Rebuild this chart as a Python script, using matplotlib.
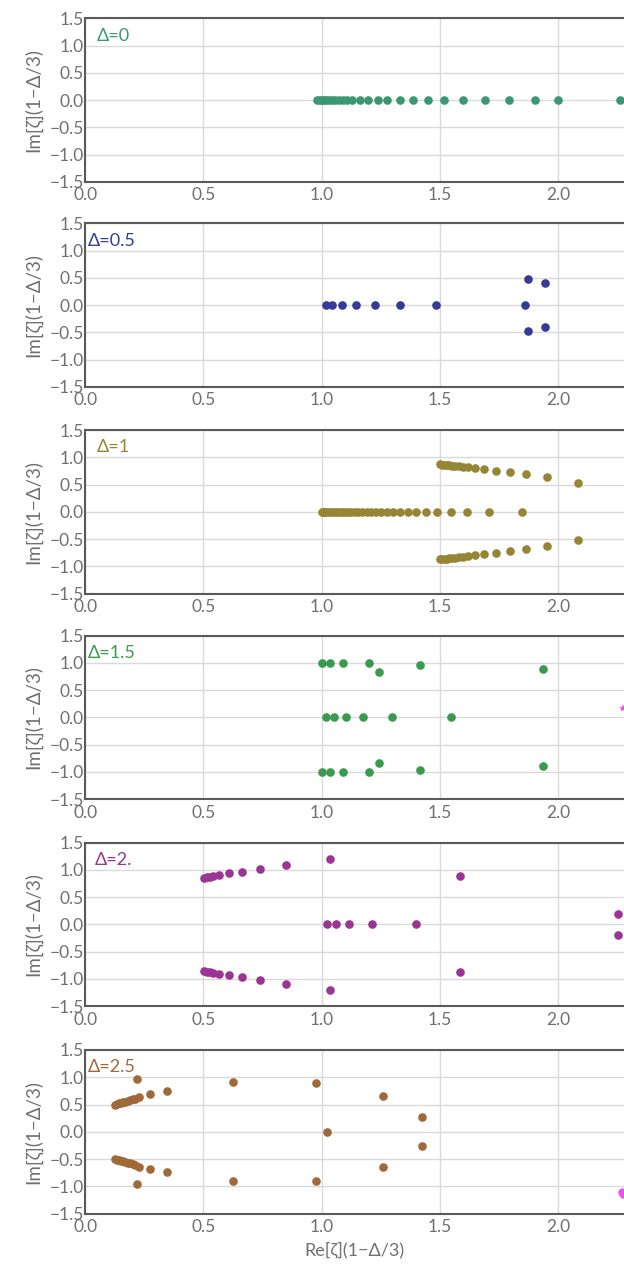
import matplotlib
matplotlib.use("Agg")
import matplotlib.pyplot as plt

plt.rcParams['font.family'] = ['Lato', 'DejaVu Sans']

labels = ["Δ=0", "Δ=0.5", "Δ=1", "Δ=1.5", "Δ=2.", "Δ=2.5"]
colors = ["#3b9774", "#363a96", "#978536", "#3a9a4e", "#9a3593", "#a0693a"]
label_x = [0.05, 0.01, 0.05, 0.01, 0.04, 0.01]

# Delta = 0 : real roots
d0_re = [0.982, 0.992, 1.0, 1.01, 1.02, 1.032, 1.045, 1.058, 1.072, 1.088, 1.106, 1.128,
         1.162, 1.197, 1.236, 1.278, 1.330, 1.387, 1.450, 1.518, 1.599, 1.692, 1.790,
         1.903, 1.999, 2.262]
d0_im = [0.0] * len(d0_re)

# Delta = 0.5
d05_re = [1.017, 1.045, 1.087, 1.147, 1.224, 1.333, 1.485, 1.861, 1.873, 1.943, 1.873, 1.943]
d05_im = [0.0, 0.0, 0.0, 0.0, 0.0, 0.0, 0.0, 0.0, 0.48, 0.40, -0.48, -0.40]

# Delta = 1
d1_real_re = [1.0, 1.005, 1.01, 1.015, 1.02, 1.03, 1.04, 1.05, 1.06, 1.07, 1.08, 1.09,
              1.10, 1.11, 1.125, 1.14, 1.155, 1.17, 1.19, 1.21, 1.23, 1.25, 1.274, 1.302,
              1.331, 1.366, 1.40, 1.443, 1.489, 1.546, 1.616, 1.706, 1.847]
d1_branch_re = [1.500, 1.510, 1.520, 1.530, 1.540, 1.552, 1.565, 1.580, 1.598, 1.620,
                1.648, 1.686, 1.736, 1.798, 1.865, 1.953, 2.084]
d1_branch_im = [0.870, 0.866, 0.862, 0.858, 0.853, 0.848, 0.842, 0.835, 0.826, 0.815,
                0.800, 0.780, 0.755, 0.725, 0.690, 0.630, 0.525]

# Delta = 1.5
d15_real_re = [1.02, 1.054, 1.104, 1.176, 1.299, 1.547]
d15_branch_re = [1.0, 1.033, 1.092, 1.201, 1.241, 1.416, 1.936]
d15_branch_im = [1.0, 1.0, 1.0, 0.995, 0.83, 0.97, 0.885]

# Delta = 2
d2_real_re = [1.023, 1.060, 1.117, 1.211, 1.397]
d2_branch_re = [0.503, 0.514, 0.526, 0.541, 0.566, 0.608, 0.663, 0.738, 0.847, 1.037, 1.585, 2.253]
d2_branch_im = [0.86, 0.865, 0.875, 0.89, 0.905, 0.935, 0.97, 1.02, 1.09, 1.21, 0.88, 0.195]

# Delta = 2.5
d25_real_re = [1.022]
d25_branch_re = [0.126, 0.134, 0.143, 0.152, 0.161, 0.170, 0.180, 0.190, 0.200, 0.211,
                 0.229, 0.274, 0.345, 0.218, 0.623, 0.978, 1.26, 1.422]
d25_branch_im = [0.50, 0.51, 0.52, 0.53, 0.545, 0.555, 0.57, 0.58, 0.595, 0.61,
                 0.64, 0.69, 0.745, 0.965, 0.91, 0.90, 0.655, 0.27]

# magenta stray markers at the right edge
mag_15_re = [2.272]
mag_15_im = [0.18]
mag_25_re = [2.268, 2.274, 2.272]
mag_25_im = [-1.10, -1.14, -1.12]

xticks = [0.0, 0.5, 1.0, 1.5, 2.0]
yticks = [-1.5, -1.0, -0.5, 0.0, 0.5, 1.0, 1.5]
magenta = "#f050f0"


def conj(re, im):
    return list(re) + list(re), list(im) + [-v for v in im]


panels = [
    (d0_re, d0_im),
    (d05_re, d05_im),
    (d1_real_re + conj(d1_branch_re, d1_branch_im)[0],
     [0.0] * len(d1_real_re) + conj(d1_branch_re, d1_branch_im)[1]),
    (d15_real_re + conj(d15_branch_re, d15_branch_im)[0],
     [0.0] * len(d15_real_re) + conj(d15_branch_re, d15_branch_im)[1]),
    (d2_real_re + conj(d2_branch_re, d2_branch_im)[0],
     [0.0] * len(d2_real_re) + conj(d2_branch_re, d2_branch_im)[1]),
    (d25_real_re + conj(d25_branch_re, d25_branch_im)[0],
     [0.0] * len(d25_real_re) + conj(d25_branch_re, d25_branch_im)[1]),
]

W, H = 624, 1269
fig = plt.figure(figsize=(W / 100, H / 100), dpi=100)
tops = [18.3, 223.3, 430.0, 635.7, 842.7, 1050.0]
ph = 163.5
left = 85.2
xmax = (W - left) / 236.5

gray = "#707070"
for i, (re, im) in enumerate(panels):
    ax = fig.add_axes([left / W, 1 - (tops[i] + ph) / H, 1 - left / W, ph / H])
    ax.set_xlim(0, xmax)
    ax.set_ylim(-1.5, 1.5)
    ax.set_xticks(xticks)
    ax.set_yticks(yticks)
    ax.set_xticklabels([f"{v:.1f}" for v in xticks])
    ax.set_yticklabels([f"{v:.1f}".replace("-", "\u2212") for v in yticks])
    ax.grid(True, color="#dadada", linewidth=1.0)
    ax.set_axisbelow(True)
    ax.tick_params(axis="y", length=0, labelsize=12.5, colors=gray, pad=1)
    ax.tick_params(axis="x", length=0, labelsize=12.5, colors=gray, pad=4)
    for s in ["left", "top", "bottom"]:
        ax.spines[s].set_color("#5a5a5a")
        ax.spines[s].set_linewidth(1.5)
    ax.spines["right"].set_visible(False)
    ax.plot(re, im, "o", color=colors[i], markersize=6.2, markeredgewidth=0, clip_on=False)
    if i == 3:
        ax.plot(mag_15_re, mag_15_im, "*", color=magenta, markersize=6, markeredgewidth=0, clip_on=True)
    if i == 5:
        ax.plot(mag_25_re, mag_25_im, "o", color=magenta, markersize=6, markeredgewidth=0, clip_on=True)
    ax.text(label_x[i], 1.18, labels[i], color=colors[i], fontsize=13, va="center", ha="left")
    ax.set_ylabel("Im[ζ](1\u2212Δ/3)", fontsize=13.5, color=gray, labelpad=5)
    if i == 5:
        ax.set_xlabel("Re[ζ](1\u2212Δ/3)", fontsize=13, color=gray, labelpad=5)
    ax.set_facecolor("white")

fig.savefig("out.png", dpi=100, facecolor="white")
